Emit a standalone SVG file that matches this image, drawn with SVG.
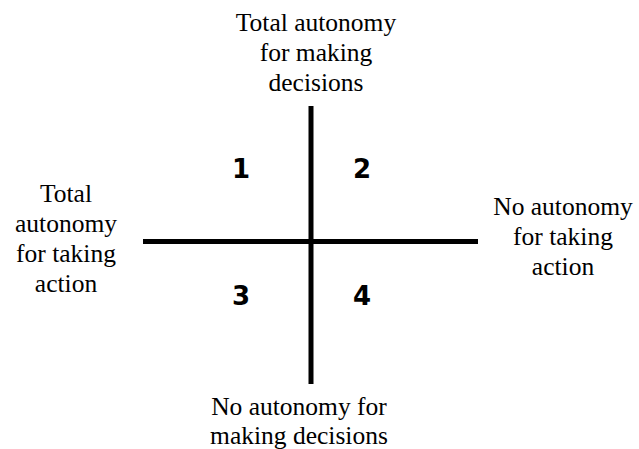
<svg xmlns="http://www.w3.org/2000/svg" width="639" height="449" viewBox="0 0 639 449">
<defs>
<style>
.ax{stroke:#000;stroke-width:5;fill:none}
</style>
</defs>
<rect width="639" height="449" fill="#fff"/>
<g id="axes">
<line class="ax" x1="143" y1="241.5" x2="478" y2="241.5"/>
<line class="ax" x1="311" y1="106" x2="311" y2="384"/>
</g>
<g id="top" font-family="Liberation Serif" font-size="25.5" text-anchor="middle"><text x="316" y="31">Total autonomy</text><text x="316" y="61">for making</text><text x="316" y="91">decisions</text></g>
<g id="bottom" font-family="Liberation Serif" font-size="25.5" text-anchor="middle"><text x="299" y="415">No autonomy for</text><text x="299" y="444">making decisions</text></g>
<g id="left" font-family="Liberation Serif" font-size="25.5" text-anchor="middle"><text x="66" y="202">Total</text><text x="66" y="232">autonomy</text><text x="66" y="262">for taking</text><text x="66" y="292">action</text></g>
<g id="right" font-family="Liberation Serif" font-size="25.5" text-anchor="middle"><text x="563" y="215">No autonomy</text><text x="563" y="245">for taking</text><text x="563" y="275">action</text></g>
<g id="q1" font-family="DejaVu Sans" font-weight="bold" font-size="26" text-anchor="middle"><text x="241" y="178">1</text></g>
<g id="q2" font-family="DejaVu Sans" font-weight="bold" font-size="26" text-anchor="middle"><text x="362" y="178">2</text></g>
<g id="q3" font-family="DejaVu Sans" font-weight="bold" font-size="26" text-anchor="middle"><text x="241" y="305">3</text></g>
<g id="q4" font-family="DejaVu Sans" font-weight="bold" font-size="26" text-anchor="middle"><text x="362" y="305">4</text></g>
</svg>
